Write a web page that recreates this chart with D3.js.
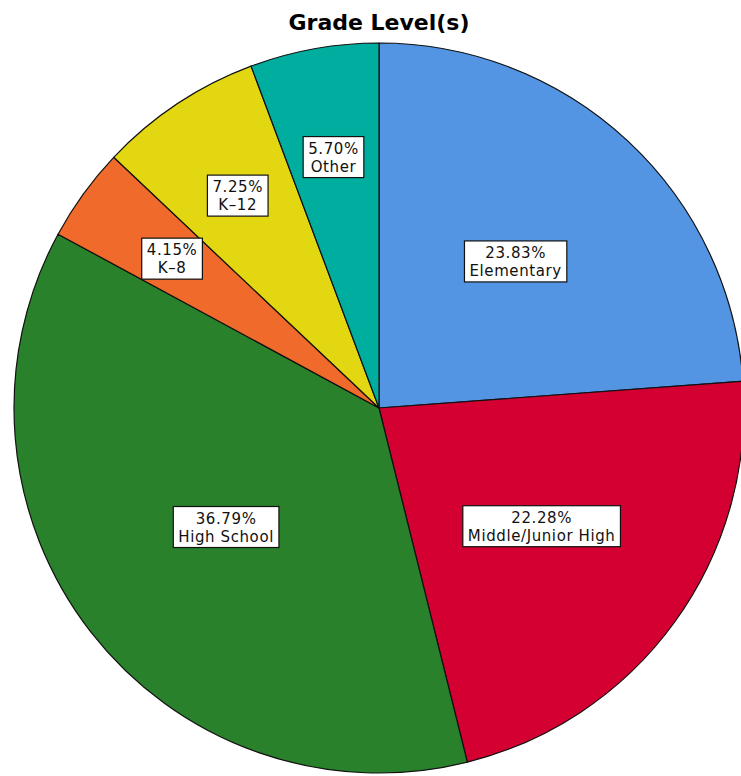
<!DOCTYPE html>
<html lang="en">
<head>
<meta charset="utf-8">
<title>Grade Level(s)</title>
<script src="https://cdn.jsdelivr.net/npm/d3@7"></script>
<style>
body { margin: 0; background: #fff; }
.title { font: bold 22px "DejaVu Sans", sans-serif; }
.lbl text { font: 15px "DejaVu Sans", sans-serif; letter-spacing: 0.6px; fill: #111; }
</style>
</head>
<body>
<svg width="741" height="776"></svg>
<script>
// data, clockwise from 12 o'clock
var categories = ["Elementary", "Middle/Junior High", "High School", "K-8", "K-12", "Other"];
var percents = [23.83, 22.28, 36.79, 4.15, 7.25, 5.70];
var colors = ["#5394e3", "#d50032", "#29822b", "#f06a2b", "#e3d712", "#00ae9f"];

var svg = d3.select("svg"),
    cx = 379, cy = 408, radius = 365;

svg.append("text")
    .attr("class", "title")
    .attr("x", cx)
    .attr("y", 30)
    .attr("text-anchor", "middle")
    .text("Grade Level(s)");

var data = categories.map(function(c, i) { return {name: c, value: percents[i], color: colors[i]}; });

var pie = d3.pie().sort(null).value(function(d) { return d.value; });
var arc = d3.arc().innerRadius(0).outerRadius(radius);

var g = svg.append("g").attr("transform", "translate(" + cx + "," + cy + ")");
var arcs = pie(data);

g.selectAll("path.slice")
  .data(arcs)
  .enter().append("path")
    .attr("class", "slice")
    .attr("d", arc)
    .attr("fill", function(d) { return d.data.color; })
    .attr("stroke", "#111")
    .attr("stroke-width", 1.2)
    .attr("stroke-linejoin", "round");

// small slices get their label pushed further out
function labelRadius(d) {
  if (d.data.value < 10) return radius * 0.7;
  return d.data.value < 30 ? radius * 0.55 : radius * 0.53;
}

var lbl = g.selectAll("g.lbl")
  .data(arcs)
  .enter().append("g")
    .attr("class", "lbl")
    .attr("transform", function(d) {
      var a = (d.startAngle + d.endAngle) / 2, r = labelRadius(d);
      return "translate(" + (Math.sin(a) * r) + "," + (-Math.cos(a) * r) + ")";
    });

lbl.each(function(d) {
  var el = d3.select(this);
  var rect = el.append("rect");
  var t1 = el.append("text").attr("text-anchor", "middle").attr("y", -3).text(d.data.value.toFixed(2) + "%");
  var t2 = el.append("text").attr("text-anchor", "middle").attr("y", 15).text(d.data.name.replace("-", "\u2013"));
  var w = Math.max(t1.node().getComputedTextLength(), t2.node().getComputedTextLength()) + 10;
  rect.attr("x", -w / 2).attr("y", -20).attr("width", w).attr("height", 41)
      .attr("fill", "#fff").attr("stroke", "#111").attr("stroke-width", 1.2);
});
</script>
</body>
</html>
